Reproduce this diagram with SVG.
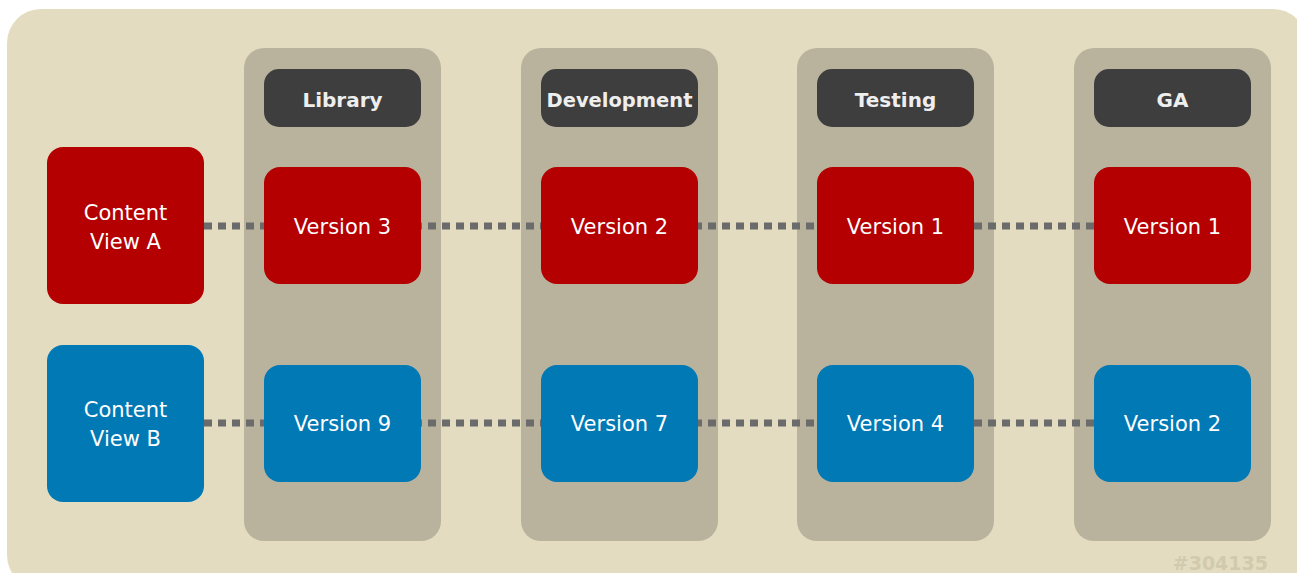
<svg xmlns="http://www.w3.org/2000/svg" width="1297" height="573" viewBox="0 0 1297 573">
<style>
.col{fill:#b9b39e}
.hdr{fill:#3e3e3e}
.red{fill:#b40000}
.blue{fill:#0079b5}
.t{font-family:"DejaVu Sans",sans-serif;font-size:21px;fill:#ffffff;text-anchor:middle}
.h{font-family:"DejaVu Sans",sans-serif;font-size:20px;fill:#eeeeee;text-anchor:middle;font-weight:bold}
.c{stroke:#6b6b6b;stroke-width:7;stroke-dasharray:8 6;fill:none}
</style>
<rect x="7" y="9" width="1300" height="580" rx="34" fill="#e3dcc0"/>
<g id="col-library"><rect class="col" x="244" y="48" width="197" height="493" rx="20"/></g>
<g id="col-development"><rect class="col" x="521" y="48" width="197" height="493" rx="20"/></g>
<g id="col-testing"><rect class="col" x="797" y="48" width="197" height="493" rx="20"/></g>
<g id="col-ga"><rect class="col" x="1074" y="48" width="197" height="493" rx="20"/></g>
<g id="connectors">
<line class="c" x1="204" y1="226" x2="1094" y2="226"/>
<line class="c" x1="204" y1="423" x2="1094" y2="423"/>
</g>
<g id="hdr-library"><rect class="hdr" x="264" y="69" width="157" height="58" rx="15"/><text class="h" x="342.5" y="107">Library</text></g>
<g id="hdr-development"><rect class="hdr" x="541" y="69" width="157" height="58" rx="15"/><text class="h" x="619.5" y="107" textLength="146" lengthAdjust="spacingAndGlyphs">Development</text></g>
<g id="hdr-testing"><rect class="hdr" x="817" y="69" width="157" height="58" rx="15"/><text class="h" x="895.5" y="107">Testing</text></g>
<g id="hdr-ga"><rect class="hdr" x="1094" y="69" width="157" height="58" rx="15"/><text class="h" x="1172.5" y="107">GA</text></g>
<g id="cv-a"><rect class="red" x="47" y="147" width="157" height="157" rx="16"/><text class="t" x="125.5" y="220">Content</text><text class="t" x="125.5" y="249">View A</text></g>
<g id="cv-b"><rect class="blue" x="47" y="345" width="157" height="157" rx="16"/><text class="t" x="125.5" y="417">Content</text><text class="t" x="125.5" y="446">View B</text></g>
<g id="a-library"><rect class="red" x="264" y="167" width="157" height="117" rx="16"/><text class="t" x="342.5" y="234">Version 3</text></g>
<g id="a-development"><rect class="red" x="541" y="167" width="157" height="117" rx="16"/><text class="t" x="619.5" y="234">Version 2</text></g>
<g id="a-testing"><rect class="red" x="817" y="167" width="157" height="117" rx="16"/><text class="t" x="895.5" y="234">Version 1</text></g>
<g id="a-ga"><rect class="red" x="1094" y="167" width="157" height="117" rx="16"/><text class="t" x="1172.5" y="234">Version 1</text></g>
<g id="b-library"><rect class="blue" x="264" y="365" width="157" height="117" rx="16"/><text class="t" x="342.5" y="431">Version 9</text></g>
<g id="b-development"><rect class="blue" x="541" y="365" width="157" height="117" rx="16"/><text class="t" x="619.5" y="431">Version 7</text></g>
<g id="b-testing"><rect class="blue" x="817" y="365" width="157" height="117" rx="16"/><text class="t" x="895.5" y="431">Version 4</text></g>
<g id="b-ga"><rect class="blue" x="1094" y="365" width="157" height="117" rx="16"/><text class="t" x="1172.5" y="431">Version 2</text></g>
<text x="1268" y="570" font-family="DejaVu Sans,sans-serif" font-size="19" font-weight="bold" fill="#d2caae" text-anchor="end">#304135</text>
</svg>
